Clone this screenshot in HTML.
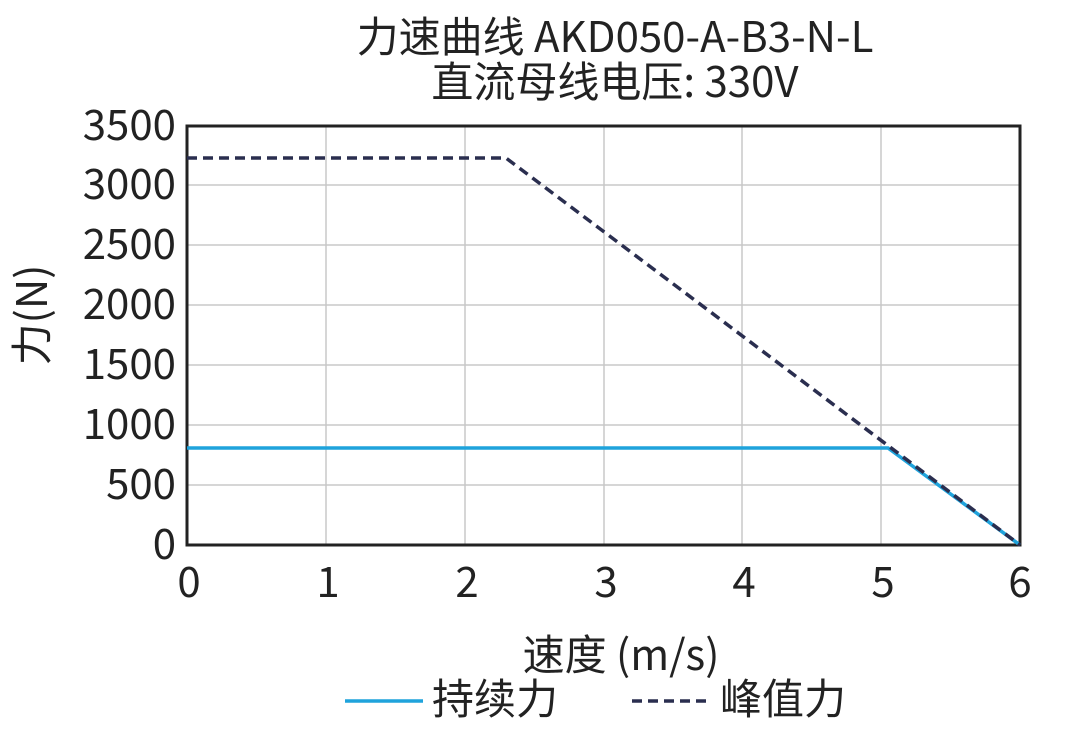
<!DOCTYPE html>
<html><head><meta charset="utf-8"><style>
body{margin:0;background:#fff;}
svg text{font-family:"Noto Sans CJK SC","Liberation Sans",sans-serif;fill:#222;}
</style></head><body>
<svg width="1088" height="745" viewBox="0 0 1088 745" xmlns="http://www.w3.org/2000/svg">
<rect width="1088" height="745" fill="#fff"/>
<g stroke="#c8c8c8" stroke-width="1.5">
<line x1="326" y1="126" x2="326" y2="545"/>
<line x1="465" y1="126" x2="465" y2="545"/>
<line x1="604" y1="126" x2="604" y2="545"/>
<line x1="742" y1="126" x2="742" y2="545"/>
<line x1="881" y1="126" x2="881" y2="545"/>
<line x1="187" y1="185" x2="1020" y2="185"/>
<line x1="187" y1="245" x2="1020" y2="245"/>
<line x1="187" y1="305" x2="1020" y2="305"/>
<line x1="187" y1="365" x2="1020" y2="365"/>
<line x1="187" y1="425" x2="1020" y2="425"/>
<line x1="187" y1="485" x2="1020" y2="485"/>
</g>
<rect x="187" y="126" width="833" height="419" fill="none" stroke="#222" stroke-width="3"/>
<polyline points="187,448 888,448 1020,545" fill="none" stroke="#1fa3dc" stroke-width="3.5"/>
<polyline points="187,158 506,158 1020,545" fill="none" stroke="#2a2e4f" stroke-width="3.5" stroke-dasharray="10,6"/>
<g font-size="42" text-anchor="end">
<text x="176" y="140">3500</text>
<text x="176" y="199">3000</text>
<text x="176" y="259">2500</text>
<text x="176" y="319">2000</text>
<text x="176" y="379">1500</text>
<text x="176" y="439">1000</text>
<text x="176" y="499">500</text>
<text x="176" y="559">0</text>
</g>
<g font-size="42" text-anchor="middle">
<text x="189" y="597">0</text>
<text x="328" y="597">1</text>
<text x="467" y="597">2</text>
<text x="606" y="597">3</text>
<text x="744" y="597">4</text>
<text x="883" y="597">5</text>
<text x="1020" y="597">6</text>
<text x="615" y="52">力速曲线 AKD050-A-B3-N-L</text>
<text x="615" y="97">直流母线电压: 330V</text>
<text x="621" y="670">速度 (m/s)</text>
</g>
<text font-size="42" text-anchor="middle" transform="translate(47,315) rotate(-90)">力(N)</text>
<line x1="345" y1="701" x2="423" y2="701" stroke="#1fa3dc" stroke-width="3.5"/>
<text x="432" y="714" font-size="42">持续力</text>
<line x1="632" y1="701" x2="712" y2="701" stroke="#2a2e4f" stroke-width="3.5" stroke-dasharray="10,6"/>
<text x="720" y="714" font-size="42">峰值力</text>
</svg>
</body></html>
